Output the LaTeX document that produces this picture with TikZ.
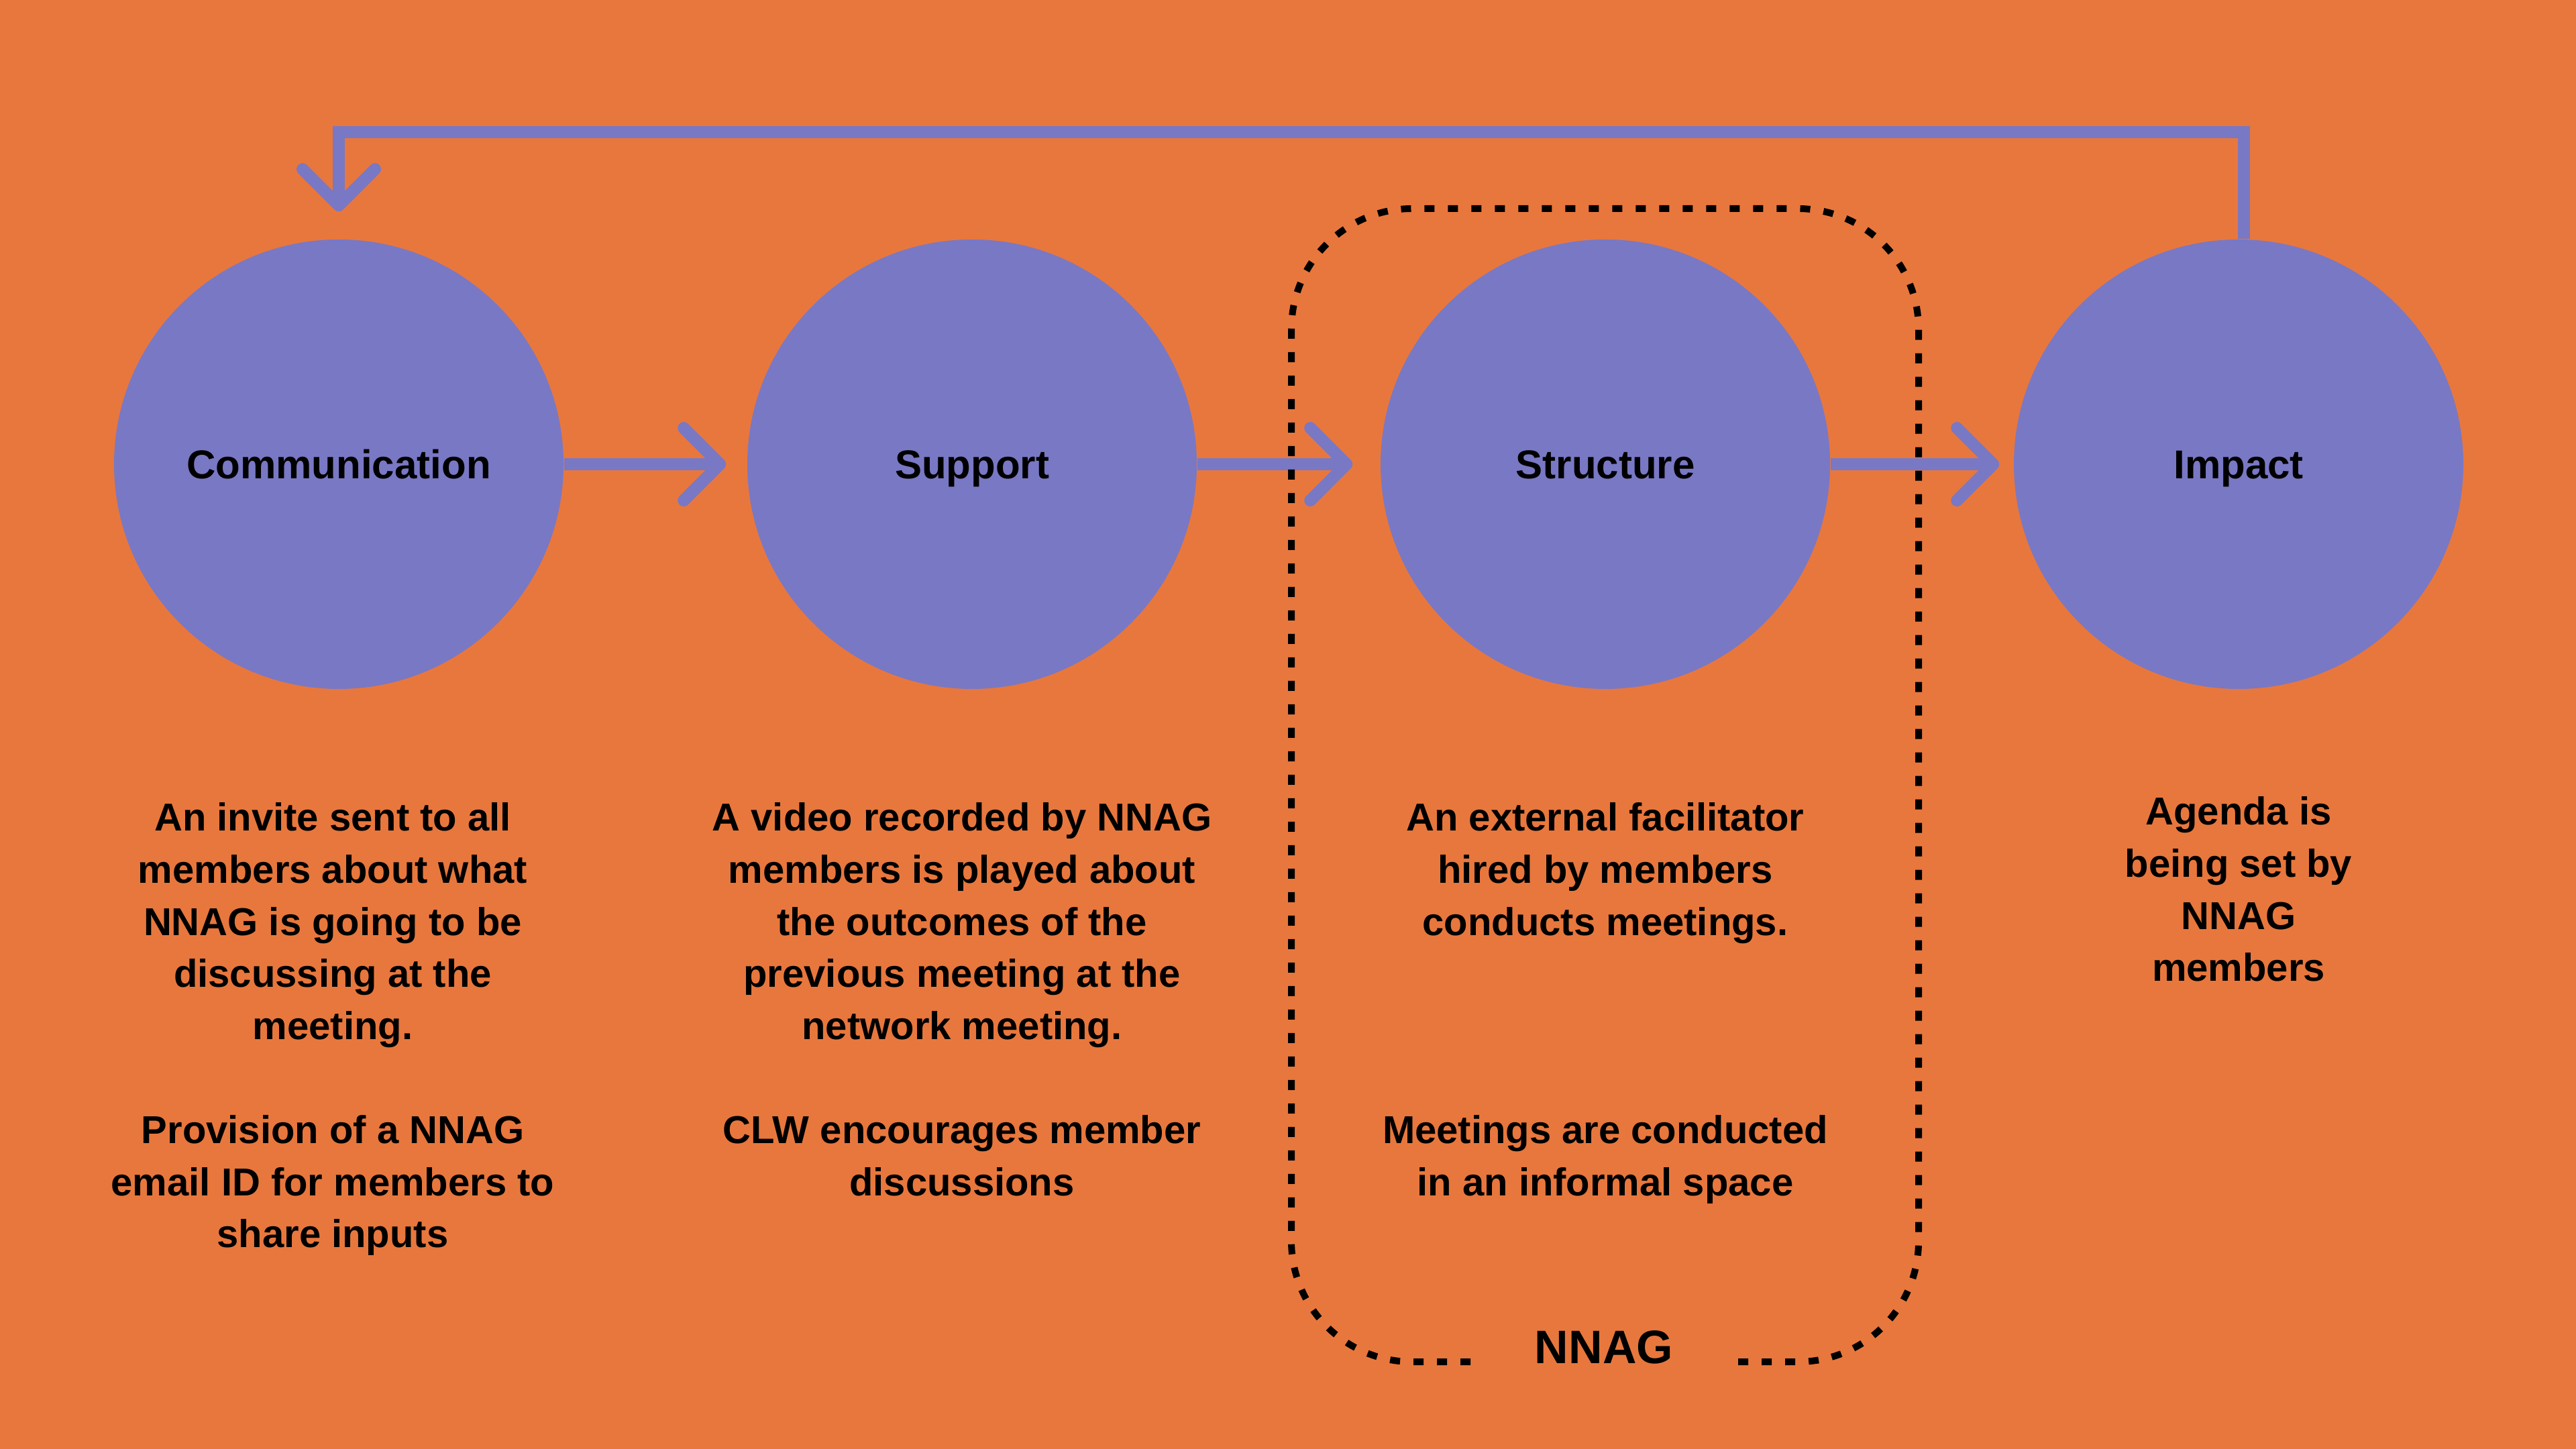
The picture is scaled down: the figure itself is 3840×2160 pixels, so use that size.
\documentclass[tikz,border=0pt]{standalone}
\usepackage{fontspec}
\setmainfont{Liberation Sans}
\usetikzlibrary{arrows.meta}
\definecolor{bgorange}{HTML}{E8773D}
\definecolor{circpurple}{HTML}{7978C4}
\begin{document}
\begin{tikzpicture}[x=0.25pt,y=-0.25pt,
  stage/.style={circle, fill=circpurple, minimum size=167.5pt, inner sep=0pt,
    font=\fontsize{15}{18}\selectfont\bfseries, text height=10.74pt, text depth=0pt},
  desc/.style={align=center, anchor=north, inner sep=0pt,
    font=\fontsize{14.5}{19.4}\selectfont\bfseries},
  conn/.style={draw=circpurple, line width=4.5pt,
    -{Straight Barb[length=13.5pt, width=27pt, round]}},
  groupline/.style={draw=black, line width=2.5pt, dash pattern=on 3.75pt off 5pt,
    rounded corners=45pt},
  grouplabel/.style={inner sep=0pt, font=\fontsize{17.5}{21}\selectfont\bfseries,
    text height=12.53pt, text depth=0pt}]

\fill[bgorange] (0,0) rectangle (3840,2160);
\useasboundingbox (0,0) rectangle (3840,2160);

% stages
\node[stage] (comm) at (505,692) {Communication};
\node[stage] (sup) at (1449,692) {Support};
\node[stage] (str) at (2393,692) {Structure};
\node[stage] (imp) at (3337,692) {Impact};

% descriptions
\node[desc] (d1) at (496,1196) {An invite sent to all\\members about what\\NNAG is going to be\\discussing at the\\meeting.\\[19.4pt]Provision of a NNAG\\email ID for members to\\share inputs};
\node[desc] (d2) at (1434,1196) {A video recorded by NNAG\\members is played about\\the outcomes of the\\previous meeting at the\\network meeting.\\[19.4pt]CLW encourages member\\discussions};
\node[desc] (d3) at (2393,1196) {An external facilitator\\hired by members\\conducts meetings.\\[58.2pt]Meetings are conducted\\in an informal space};
\node[desc] (d4) at (3337,1187) {Agenda is\\being set by\\NNAG\\members};

% connectors
\draw[conn, shorten >=7.75pt] (comm) -- (sup);
\draw[conn, shorten >=10.25pt] (sup) -- (str);
\draw[conn, shorten >=5.25pt] (str) -- (imp);
\coordinate (fb) at (0,197);
\draw[conn, shorten >=10.25pt] ([xshift=2pt]imp.north) -- ([xshift=2pt]imp.north |- fb) -- (comm.north |- fb) -- (comm.north);

% NNAG group
\node[grouplabel] (grp) at (2391,2007) {NNAG};
\coordinate (gl) at (2192,2030);
\coordinate (gr) at (2591,2030);
\draw[groupline] (gl) -- (1925,2030) -- (1925,311) -- (2860,311) -- (2860,2030) -- (gr);
\end{tikzpicture}
\end{document}
